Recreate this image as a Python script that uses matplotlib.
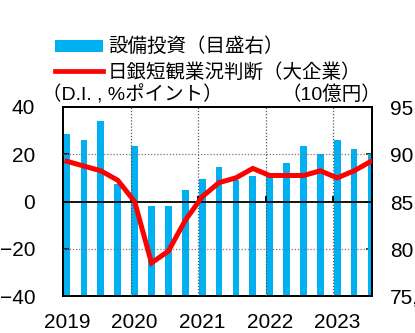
import matplotlib
matplotlib.use("Agg")
import matplotlib.pyplot as plt
from matplotlib.patches import Rectangle
from matplotlib.lines import Line2D
import numpy as np

# Quarterly series, 2019Q1 - 2023Q3
years = [2019, 2020, 2021, 2022, 2023]
quarters = [2019 + i * 0.25 for i in range(19)]

# Capital investment (10 billion yen), right axis
capex = [92100, 91550, 93550, 86800,
         90825, 84575, 84575, 86250,
         87425, 88650, 87300, 87650,
         87650, 89125, 90825, 90000,
         91500, 90600, 90075]

# BOJ Tankan business conditions DI (large enterprises), left axis
tankan = [17, 15, 13, 9,
          0, -26, -21, -8,
          2, 8, 10, 14,
          11, 11, 11, 13,
          10, 13, 17]

left_ticks = [-40, -20, 0, 20, 40]
right_ticks = [75000, 80000, 85000, 90000, 95000]
right_labels = ["75,000", "80,000", "85,000", "90,000", "95,000"]

legend_capex = "設備投資（目盛右）"
legend_tankan = "日銀短観業況判断（大企業）"
unit_left = "（D.I. , %ポイント）"
unit_right = "（10億円）"

BLUE = "#00B0F0"
RED = "#FF0000"
NUM_FONT = ["Liberation Sans", "Noto Sans CJK JP"]
JP_FONT = ["Noto Sans CJK JP", "Liberation Sans"]

W, H = 415, 333
fig = plt.figure(figsize=(W / 100, H / 100), dpi=100)
fig.patch.set_facecolor("white")

ax_l, ax_r, ax_t, ax_b = 63, 372, 107, 296
ax = fig.add_axes([ax_l / W, 1 - ax_b / H, (ax_r - ax_l) / W, (ax_b - ax_t) / H])
ax2 = ax.twinx()

offset = 0.06
xpos = np.array(quarters) + offset

# bars on the right axis, line on the left axis drawn above them
ax2.bar(xpos, capex, width=0.1, color=BLUE, zorder=2)
ax.set_zorder(ax2.get_zorder() + 1)
ax.patch.set_visible(False)

ax.plot(xpos, tankan, color=RED, lw=3.6, solid_joinstyle="miter", zorder=5, clip_on=True)

ax.set_xlim(2019, 2023.575)
ax.set_ylim(-40, 40)
ax2.set_ylim(75000, 95000)

# grid: dotted year lines and +/-20 lines, solid zero line
for y in years[1:]:
    ax.axvline(y, color="#555555", lw=0.9, ls=(0, (1, 1.5)), zorder=3)
for v in (-20, 20):
    ax.axhline(v, color="#777777", lw=0.9, ls=(0, (1, 1.5)), zorder=3)
ax.axhline(0, color="black", lw=1.3, zorder=4)
ax.vlines(years[1:], 0, 2.5, color="black", lw=1.3, zorder=4)

ax.set_yticks(left_ticks)
ax.set_yticklabels([f"{v}".replace("-", "\u2212") for v in left_ticks], fontfamily=NUM_FONT, fontsize=15)
ax.tick_params(axis="y", direction="in", length=4, width=1.1, pad=20)

ax.set_xticks(years)
ax.set_xticklabels([])
ax.set_xticks([y + offset for y in years], minor=True)
ax.set_xticklabels([str(y) for y in years], minor=True, fontfamily=NUM_FONT, fontsize=15)
ax.tick_params(axis="x", which="both", length=0, pad=12)

ax2.set_yticks(right_ticks)
ax2.set_yticklabels(right_labels, fontfamily=NUM_FONT, fontsize=15)
ax2.tick_params(axis="y", direction="in", length=4, width=1.1, pad=13)

for a in (ax, ax2):
    for s in a.spines.values():
        s.set_linewidth(1.3)
        s.set_color("black")

# legend and unit labels
fig.add_artist(Rectangle((55 / W, 1 - 52 / H), 48 / W, 12 / H,
                         transform=fig.transFigure, color=BLUE, lw=0))
fig.add_artist(Line2D([55 / W, 103 / W], [1 - 70.5 / H, 1 - 70.5 / H],
                      transform=fig.transFigure, color=RED, lw=3.4))
fig.text(108 / W, 1 - 46 / H, legend_capex, fontfamily=JP_FONT, fontsize=14,
         ha="left", va="center")
fig.text(108 / W, 1 - 72 / H, legend_tankan, fontfamily=JP_FONT, fontsize=14,
         ha="left", va="center")
fig.text(42 / W, 1 - 95 / H, unit_left, fontfamily=NUM_FONT, fontsize=14,
         ha="left", va="center")
fig.text(381 / W, 1 - 95 / H, unit_right, fontfamily=NUM_FONT, fontsize=14,
         ha="right", va="center")

fig.savefig("out.png", dpi=100)
